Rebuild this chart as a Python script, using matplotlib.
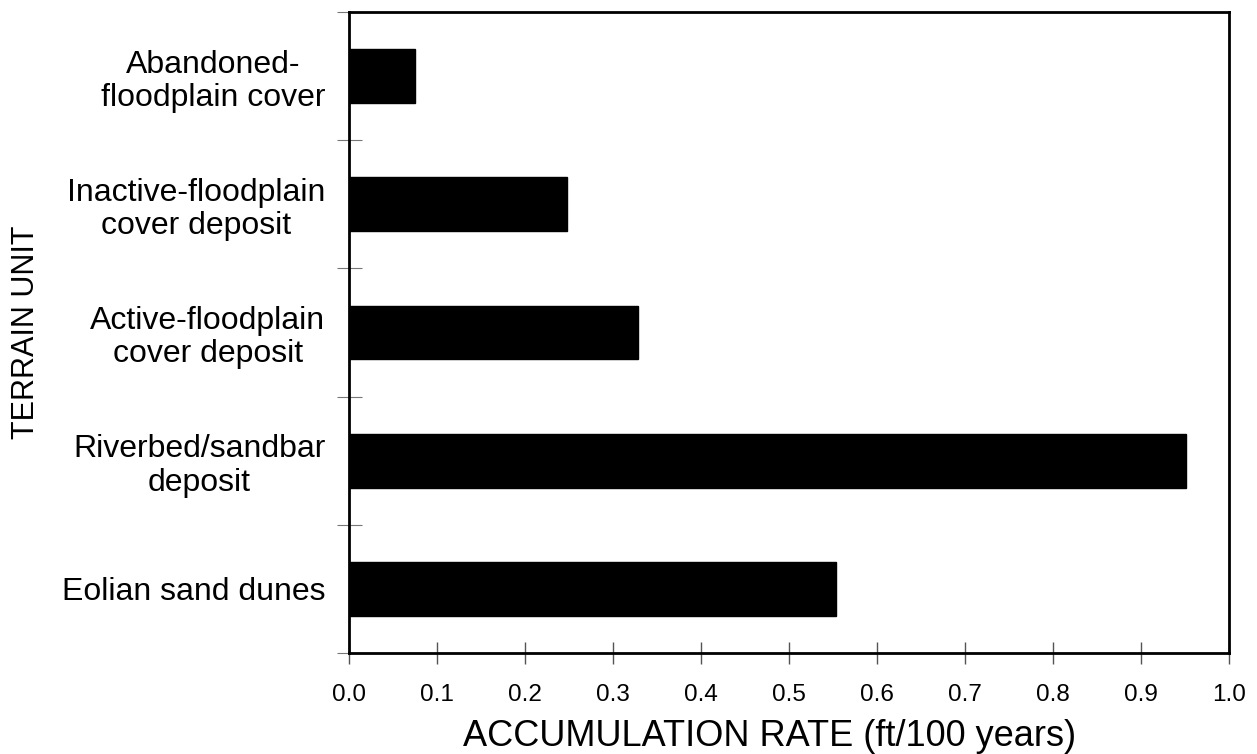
import matplotlib
matplotlib.use("Agg")
import matplotlib.pyplot as plt
import numpy as np

plt.rcParams['font.family'] = ['Liberation Sans', 'DejaVu Sans']

units = [
    "Abandoned-\nfloodplain cover",
    "Inactive-floodplain\ncover deposit",
    "Active-floodplain\ncover deposit",
    "Riverbed/sandbar\ndeposit",
    "Eolian sand dunes",
]
rates = [0.075, 0.248, 0.328, 0.951, 0.553]
x_ticks = [0.0, 0.1, 0.2, 0.3, 0.4, 0.5, 0.6, 0.7, 0.8, 0.9, 1.0]

fig = plt.figure(figsize=(12.57, 7.54), dpi=100)
ax = fig.add_axes([0.2776, 0.1340, 0.7001, 0.8501])

pos = np.arange(len(units))
ax.barh(pos, rates, height=0.42, color='black', edgecolor='black')

ax.set_xlim(0, 1.0)
ax.set_ylim(len(units) - 0.5, -0.5)

ax.set_xticks(x_ticks)
ax.set_xticklabels([f"{v:.1f}" for v in x_ticks], fontsize=17.5)
ax.tick_params(axis='x', direction='inout', length=16, width=1.0,
               color='#555555', pad=14)

ax.set_yticks(pos)
ax.set_yticklabels(units, fontsize=23, multialignment='center',
                   linespacing=1.15)
ax.tick_params(axis='y', which='major', length=0, pad=17)
ax.set_yticks(np.arange(-0.5, len(units), 1.0), minor=True)
ax.tick_params(axis='y', which='minor', direction='inout', length=18,
               width=0.8, color='#777777')

for s in ax.spines.values():
    s.set_linewidth(2.0)
    s.set_color('black')

ax.set_xlabel("ACCUMULATION RATE (ft/100 years)", fontsize=26)
ax.xaxis.set_label_coords(0.478, -0.103)
ax.set_ylabel("TERRAIN UNIT", fontsize=22, labelpad=15)

fig.savefig("out.png", dpi=100)
